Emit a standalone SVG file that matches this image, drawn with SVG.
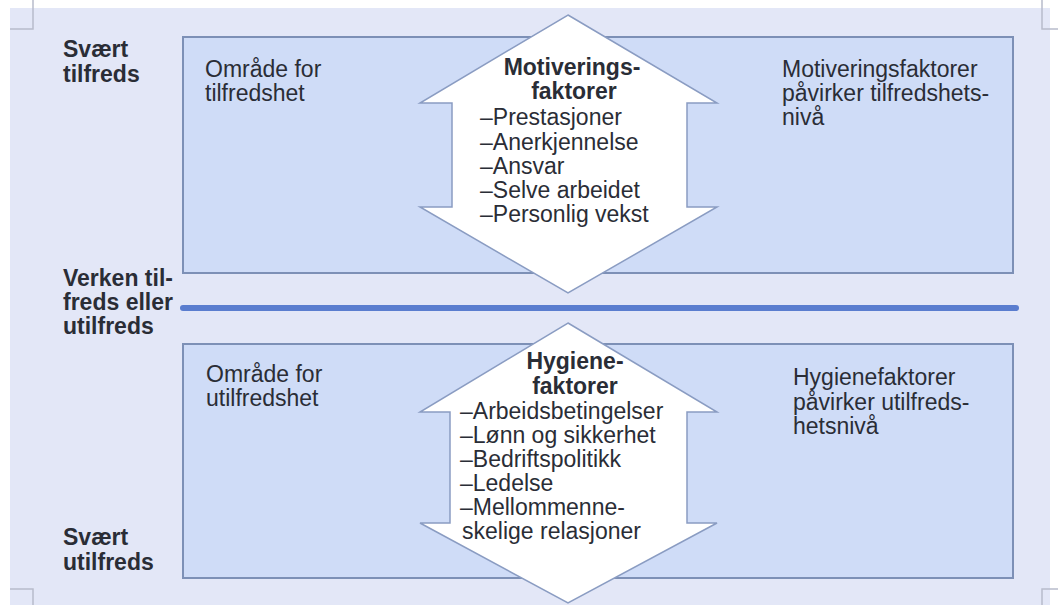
<svg xmlns="http://www.w3.org/2000/svg" width="1058" height="605" viewBox="0 0 1058 605">
<style>
.t{font-family:"Liberation Sans",Arial,sans-serif;font-size:23px;fill:#2a2d36}
.b{font-weight:bold}
.box{fill:#cfdcf7;stroke:#7d90b6;stroke-width:2}
.arr{fill:#ffffff;stroke:#8a9cc2;stroke-width:1.5}
.mark{fill:none;stroke:#b8bccb;stroke-width:1.5}
</style>
<rect x="0" y="0" width="1058" height="605" fill="#ffffff"/>
<rect x="10" y="8" width="1040" height="597" fill="#e3e7f7"/>
<g id="corners">
<path class="mark" d="M10 29 H33 V0"/>
<path class="mark" d="M1058 29 H1042 V0"/>
<path class="mark" d="M10 589 H33 V605"/>
<path class="mark" d="M1058 589 H1042 V605"/>
</g>
<g id="box-top"><rect class="box" x="183" y="37" width="830" height="236"/></g>
<g id="box-bottom"><rect class="box" x="183" y="344" width="830" height="234"/></g>
<g id="connectors">
<line x1="183" y1="308" x2="1016" y2="308" stroke="#5a7dcf" stroke-width="6" stroke-linecap="round"/>
</g>
<g id="arrow-top">
<polygon class="arr" points="568,15 717,103 687,103 687,207 717,207 568,293 420,207 452,207 452,103 420,103"/>
<text class="t b" x="572" y="75" text-anchor="middle">Motiverings-</text>
<text class="t b" x="574" y="99" text-anchor="middle">faktorer</text>
<text class="t" x="480" y="125">–Prestasjoner</text>
<text class="t" x="480" y="150">–Anerkjennelse</text>
<text class="t" x="480" y="174">–Ansvar</text>
<text class="t" x="480" y="198">–Selve arbeidet</text>
<text class="t" x="480" y="222">–Personlig vekst</text>
</g>
<g id="arrow-bottom">
<polygon class="arr" points="568,323 717,412 687,412 687,523 717,523 568,603 420,523 450,523 450,412 420,412"/>
<text class="t b" x="575" y="369" text-anchor="middle">Hygiene-</text>
<text class="t b" x="575" y="394" text-anchor="middle">faktorer</text>
<text class="t" x="460" y="419">–Arbeidsbetingelser</text>
<text class="t" x="460" y="443">–Lønn og sikkerhet</text>
<text class="t" x="460" y="467">–Bedriftspolitikk</text>
<text class="t" x="460" y="491">–Ledelse</text>
<text class="t" x="460" y="515">–Mellommenne-</text>
<text class="t" x="462" y="539">skelige relasjoner</text>
</g>
<g id="label-svaert-tilfreds">
<text class="t b" x="63" y="57">Svært</text>
<text class="t b" x="63" y="82">tilfreds</text>
</g>
<g id="label-verken">
<text class="t b" x="63" y="286">Verken til-</text>
<text class="t b" x="63" y="310">freds eller</text>
<text class="t b" x="63" y="334">utilfreds</text>
</g>
<g id="label-svaert-utilfreds">
<text class="t b" x="63" y="545">Svært</text>
<text class="t b" x="63" y="570">utilfreds</text>
</g>
<g id="text-omrade-tilfredshet">
<text class="t" x="205" y="77">Område for</text>
<text class="t" x="205" y="101">tilfredshet</text>
</g>
<g id="text-motiveringsfaktorer">
<text class="t" x="782" y="77">Motiveringsfaktorer</text>
<text class="t" x="782" y="101">påvirker tilfredshets-</text>
<text class="t" x="782" y="125">nivå</text>
</g>
<g id="text-omrade-utilfredshet">
<text class="t" x="206" y="382">Område for</text>
<text class="t" x="206" y="406">utilfredshet</text>
</g>
<g id="text-hygienefaktorer">
<text class="t" x="793" y="385">Hygienefaktorer</text>
<text class="t" x="793" y="410">påvirker utilfreds-</text>
<text class="t" x="793" y="434">hetsnivå</text>
</g>
</svg>
